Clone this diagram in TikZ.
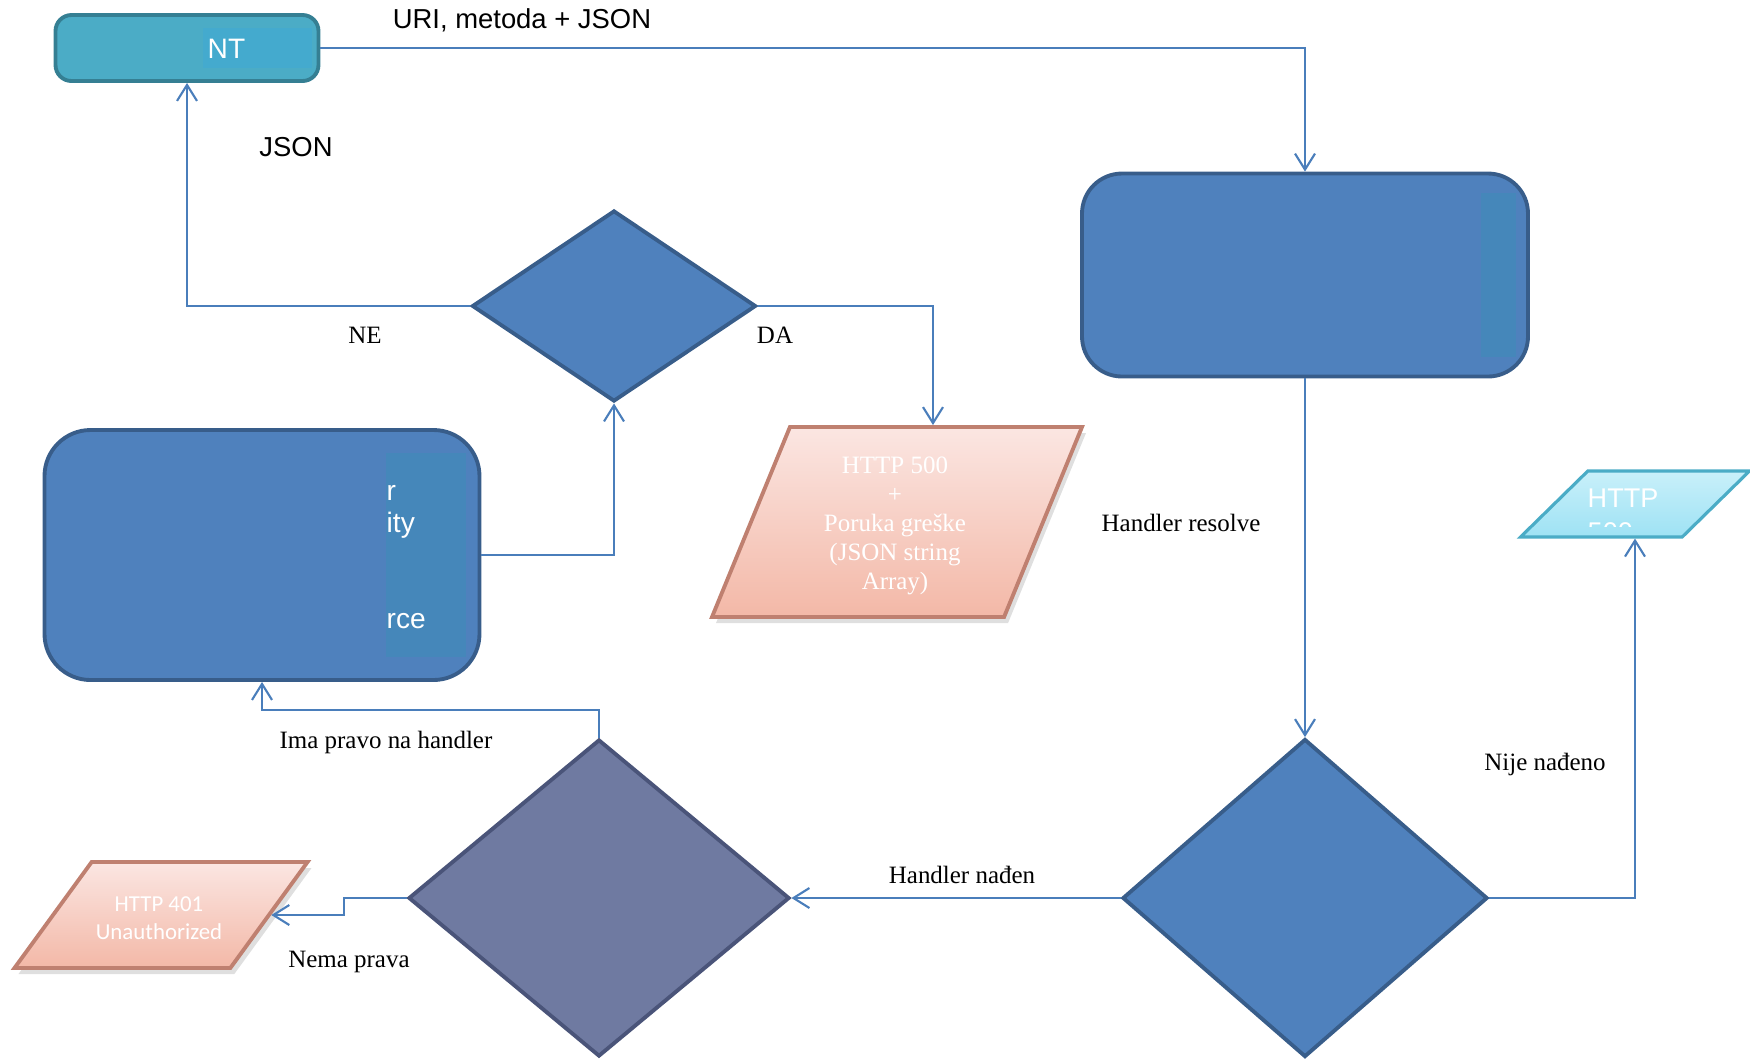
\documentclass[tikz,border=0pt]{standalone}
\usepackage{fontspec}
\setmainfont{Liberation Serif}
\setsansfont{Liberation Sans}
\newfontfamily\calibrifont{Carlito}
\usetikzlibrary{positioning, arrows.meta}
\usetikzlibrary{shapes.geometric, shadows}

\definecolor{boxblue}{HTML}{4F81BD}
\definecolor{boxborder}{HTML}{385D8A}
\definecolor{boxinner}{HTML}{4587BA}
\definecolor{clientfill}{HTML}{4BACC6}
\definecolor{clientborder}{HTML}{357F93}
\definecolor{clientinner}{HTML}{44AACE}
\definecolor{linkblue}{HTML}{4A7EBB}
\definecolor{checkfill}{HTML}{6F7AA1}
\definecolor{checkborder}{HTML}{4A5479}
\definecolor{errtop}{HTML}{FBE6E2}
\definecolor{errbottom}{HTML}{F3B8A7}
\definecolor{errborder}{HTML}{BF8070}
\definecolor{nftop}{HTML}{C9F0FA}
\definecolor{nfbottom}{HTML}{9EE2F4}
\definecolor{nfborder}{HTML}{4BACC6}

\begin{document}
\begin{tikzpicture}[x=0.1mm, y=-0.1mm,
		>={Straight Barb[length=1.6mm, width=2mm]},
		conn/.style={draw=linkblue, line width=0.6pt},
		lbl/.style={font=\fontsize{7.1}{8.5}\selectfont, inner sep=0pt},
		sanslbl/.style={font=\sffamily\fontsize{7.8}{9}\selectfont, inner sep=0pt},
		inbox/.style={text=white, inner sep=0pt, font=\sffamily\fontsize{8}{9.6}\selectfont},
		blockbox/.style={draw=boxborder, fill=boxblue, line width=1.1pt, rounded corners=4mm},
		decision/.style={diamond, draw=boxborder, fill=boxblue, line width=1.1pt, inner sep=0pt},
		ioshape/.style={trapezium, trapezium stretches=true, inner sep=1pt, line width=1.1pt},
		errshape/.style={ioshape, draw=errborder, top color=errtop, bottom color=errbottom,
			drop shadow={shadow xshift=0.4mm, shadow yshift=-0.6mm, opacity=0.25}}]
		\useasboundingbox (0,0) rectangle (1750,1060);

		% boxes and decisions
		\node[blockbox, draw=clientborder, fill=clientfill, rounded corners=1.6mm,
			minimum width=26.3mm, minimum height=6.6mm] (client) at (187,48) {};
		\node[blockbox, minimum width=44.6mm, minimum height=20.3mm] (resolve) at (1305,275) {};
		\node[blockbox, rounded corners=4.6mm, minimum width=43.5mm, minimum height=25mm] (security) at (262,555) {};
		\node[decision, minimum width=28.4mm, minimum height=19.1mm] (isok) at (614,306) {};
		\node[decision, minimum width=36.5mm, minimum height=31.8mm] (found) at (1305,898) {};
		\node[decision, draw=checkborder, fill=checkfill,
			minimum width=38.1mm, minimum height=31.7mm] (access) at (599,898) {};

		% outputs
		\node[errshape, trapezium left angle=70, trapezium right angle=110,
			minimum width=37mm, minimum height=19mm] (err500) at (897,522) {};
		\node[errshape, trapezium left angle=60.9, trapezium right angle=119.1,
			minimum width=29.3mm, minimum height=10.6mm] (err401) at (161,915) {};
		\node[ioshape, draw=nfborder, top color=nftop, bottom color=nfbottom, line width=0.9pt,
			trapezium left angle=54.5, trapezium right angle=125.5,
			minimum width=22.9mm, minimum height=6.6mm] (nf500) at (1635,504) {};

		% clipped text boxes
		\fill[clientinner] (203,28) rectangle (312,68);
		\fill[boxinner] (1481,193) rectangle (1516,357);
		\fill[boxinner] (386,453) rectangle (466,657);

		\node[inbox, anchor=base west] (clienttxt) at (207,58) {NT};
		\node[inbox, anchor=base west] (sectxta) at (386,500) {r};
		\node[inbox, anchor=base west] (sectxtb) at (386,532) {ity};
		\node[inbox, anchor=base west] (sectxtc) at (386,628) {rce};
		\node[text=white, inner sep=0pt, align=center, font=\fontsize{7.1}{8.2}\selectfont]
			(err500txt) at (895,526) {HTTP 500\\+\\Poruka greške\\(JSON string\\Array)};
		\node[text=white, inner sep=0pt, align=center, font=\calibrifont\fontsize{6.5}{7.9}\selectfont]
			(err401txt) at (159,918) {HTTP 401\\Unauthorized};
		\begin{scope}
			\clip (1500,460) rectangle (1750,526);
			\node[inbox, font=\sffamily\fontsize{7.7}{9}\selectfont, anchor=base west] (nftxta) at (1587,507) {HTTP};
			\node[inbox, font=\sffamily\fontsize{7.7}{9}\selectfont, anchor=base west] (nftxtb) at (1587,541) {500};
		\end{scope}

		% labels
		\node[sanslbl] (urilbl) at (522,20) {URI, metoda + JSON};
		\node[sanslbl] (jsonlbl) at (296,147) {JSON};
		\node[lbl] (nelbl) at (365,335) {NE};
		\node[lbl] (dalbl) at (775,335) {DA};
		\node[lbl] (resolvelbl) at (1181,523) {Handler resolve};
		\node[lbl] (nijelbl) at (1545,764) {Nije nađeno};
		\node[lbl] (nadjenlbl) at (962,875) {Handler nađen};
		\node[lbl] (imalbl) at (386,742) {Ima pravo na handler};
		\node[lbl] (nemalbl) at (349,962) {Nema prava};

		% connectors
		\draw[conn,->] (client.east) -| (resolve.north);
		\draw[conn,->] (isok.west) -| (client.south);
		\draw[conn,->] (isok.east) -| ([xshift=3.6mm]err500.north);
		\draw[conn,->] (security.east) -| (isok.south);
		\draw[conn,->] (resolve.south) -- (found.north);
		\draw[conn,->] (found.east) -| (nf500);
		\draw[conn,->] (found.west) -- (access.east);
		\draw[conn,->] (access.north) -- ++(0,-28) -| (security.south);
		\draw[conn,->] (access.west) -- ++(-63,0) |- (err401);
	\end{tikzpicture}
\end{document}
